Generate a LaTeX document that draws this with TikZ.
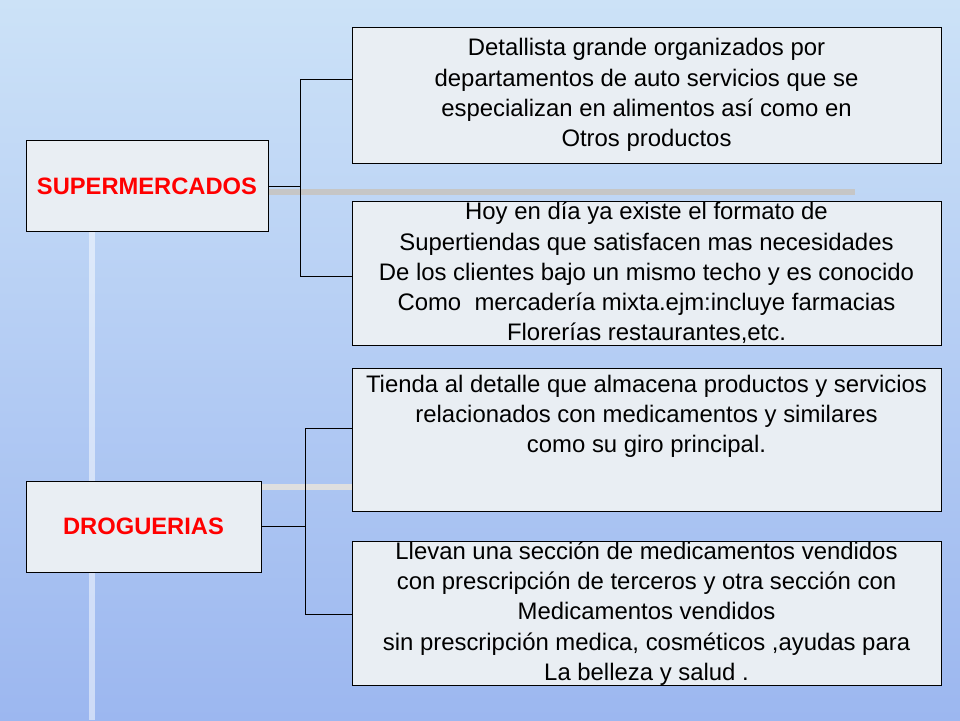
\documentclass[tikz,border=0pt]{standalone}
\usepackage{fontspec}
\setmainfont{Liberation Sans}
\usetikzlibrary{positioning}
\definecolor{boxfill}{HTML}{E9EEF3}
\definecolor{bgtop}{HTML}{D6EBF9}
\definecolor{bgbot}{HTML}{92AEEE}
\definecolor{titlered}{HTML}{FF0000}
\begin{document}
\begin{tikzpicture}[x=0.02cm,y=-0.02cm,
    box/.style={draw,fill=boxfill,line width=0.5pt,inner sep=0pt,
      font=\fontsize{13.6}{17.2}\selectfont,align=center},
    title/.style={box,text=titlered,font=\fontsize{13.5}{16}\selectfont\bfseries},
    link/.style={line width=0.5pt}
  ]
  % background
  \useasboundingbox (0,0) rectangle (960,720);
  \clip (0,0) rectangle (960,720);
  \shade[shading=axis,shading angle=-45,top color=bgtop,bottom color=bgbot] (-150,-150) rectangle (1110,870);
  \draw[white,opacity=0.5,line width=3pt] (92,232) -- (92,720);
  \draw[gray!45,line width=3pt] (268,192) -- (855,192);
  \draw[gray!25,line width=3pt] (261,487) -- (352,487);

  \node[title,minimum width=242*0.02cm,minimum height=91*0.02cm] (super) at (147,186) {SUPERMERCADOS};
  \node[title,minimum width=235*0.02cm,minimum height=91*0.02cm] (drog) at (143.5,526.5) {DROGUERIAS};

  \node[box,minimum width=589*0.02cm,minimum height=136*0.02cm] (d1) at (646.5,95)
    {Detallista grande organizados por\\ departamentos de auto servicios que se\\especializan en alimentos así como en\\Otros productos};
  \node[box,minimum width=589*0.02cm,minimum height=144*0.02cm] (d2) at (646.5,273)
    {Hoy en día ya existe el formato de\\Supertiendas que satisfacen mas necesidades\\De los clientes bajo un mismo techo y es conocido\\Como\ \ mercadería mixta.ejm:incluye farmacias\\Florerías restaurantes,etc.};
  \node[box,minimum width=589*0.02cm,minimum height=143*0.02cm] (d3) at (646.5,439.5)
    {Tienda al detalle que almacena productos y servicios\\ relacionados con medicamentos y similares\\como su giro principal.\\[0.9em]};
  \node[box,minimum width=589*0.02cm,minimum height=143*0.02cm] (d4) at (646.5,613.5)
    {Llevan una sección de medicamentos vendidos\\ con prescripción de terceros y otra sección con\\Medicamentos vendidos\\ sin prescripción medica, cosméticos ,ayudas para\\La belleza\ y salud .};

  \coordinate (s1) at (300,79);
  \coordinate (s2) at (300,276);
  \coordinate (g1) at (305,428);
  \coordinate (g2) at (305,614);
  \draw[link] (super.east) -- (super.east -| s1);
  \draw[link] (s1) -- (s2);
  \draw[link] (s1) -- (s1 -| d1.west);
  \draw[link] (s2) -- (s2 -| d2.west);
  \draw[link] (drog.east) -- (drog.east -| g1);
  \draw[link] (g1) -- (g2);
  \draw[link] (g1) -- (g1 -| d3.west);
  \draw[link] (g2) -- (g2 -| d4.west);
\end{tikzpicture}
\end{document}
